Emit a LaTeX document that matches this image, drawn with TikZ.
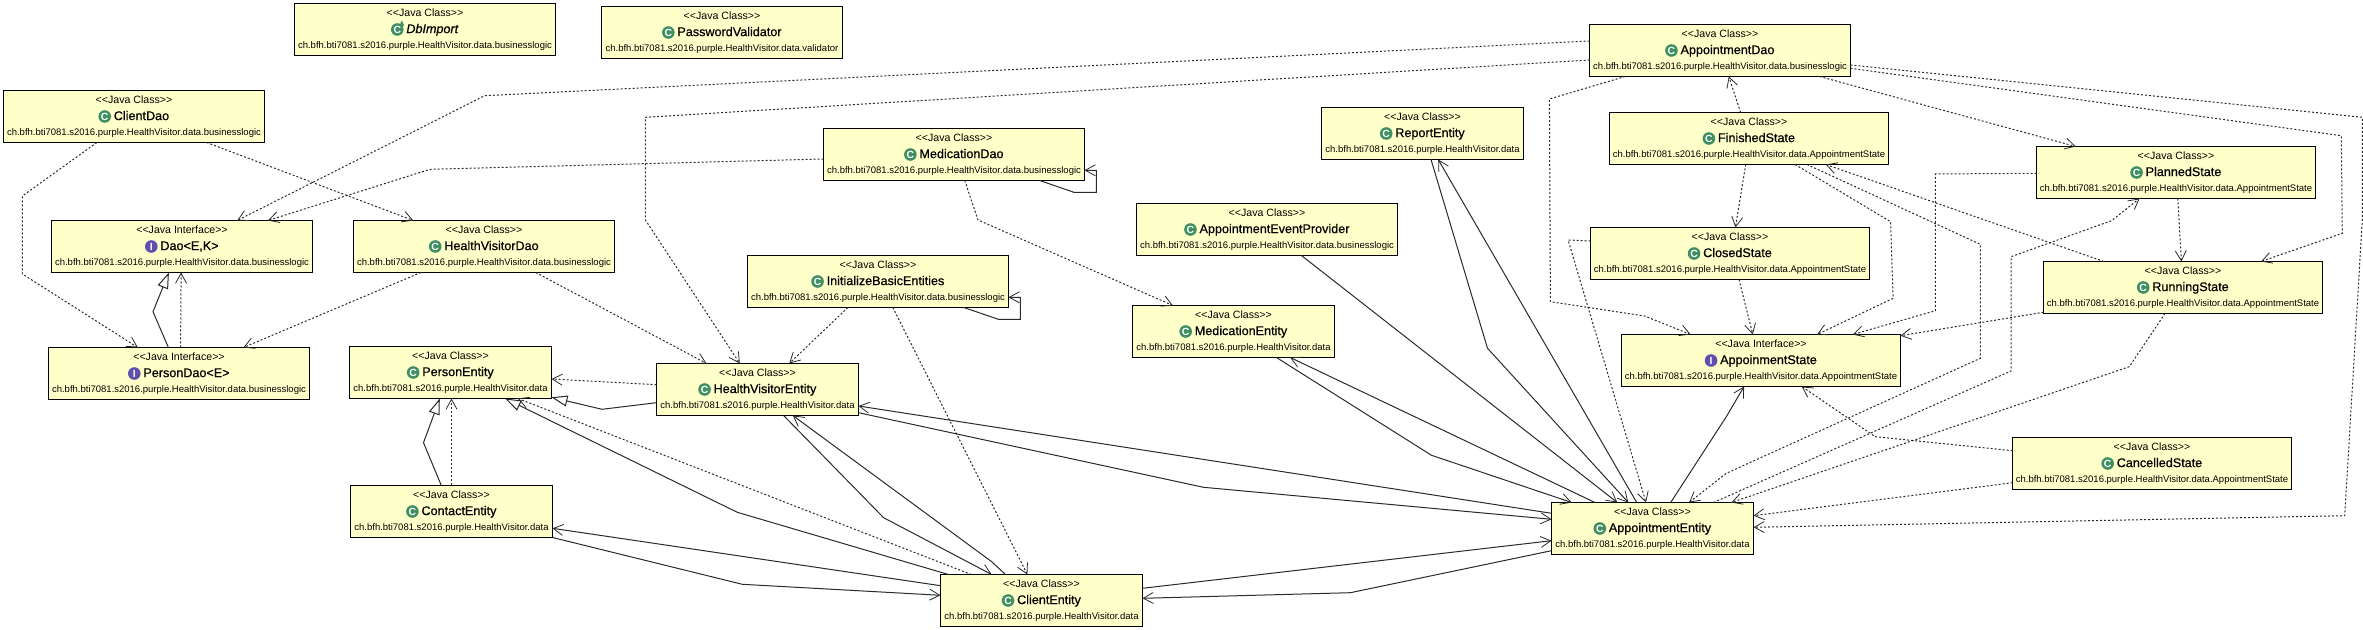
\documentclass[tikz,border=0pt]{standalone}
\usepackage{fontspec}
\setmainfont{Liberation Sans}
\newfontfamily\namefont[FakeBold=0.7]{Liberation Sans}
\usetikzlibrary{arrows.meta,calc}
\definecolor{boxfill}{HTML}{FFFFC9}
\definecolor{iconC}{HTML}{3F8F63}
\definecolor{iconI}{HTML}{5F50B0}
\definecolor{linec}{HTML}{2A2A2A}
\tikzset{
  umlbox/.style={draw=black,fill=boxfill,line width=.65pt,inner sep=0pt,outer sep=0pt,minimum height=26pt,anchor=north west},
  stereo/.style={inner sep=0pt,anchor=base,font=\fontsize{5.3}{6}\selectfont},
  cname/.style={inner sep=0pt,anchor=base,font=\fontsize{6.3}{6}\selectfont\namefont},
  pkg/.style={inner sep=0pt,anchor=base,font=\fontsize{4.75}{6}\selectfont},
  iconc/.style={circle,fill=iconC,inner sep=0pt,minimum size=6.3pt,text=white,font=\fontsize{5.2}{5}\selectfont\bfseries},
  iconi/.style={circle,fill=iconI,inner sep=0pt,minimum size=6.3pt,text=white,font=\fontsize{5.2}{5}\selectfont\bfseries},
  dep/.style={draw=linec,line width=.5pt,dash pattern=on 1pt off 1pt,-{Straight Barb[length=5pt,width=5.5pt,line width=.4pt]}},
  assoc/.style={draw=linec,line width=.5pt,-{Straight Barb[length=5pt,width=5.5pt,line width=.4pt]}},
  inherit/.style={draw=linec,line width=.5pt,-{Triangle[open,fill=white,length=8pt,width=5.5pt,line width=.5pt]}},
  loopline/.style={draw=linec,line width=.5pt,-{Straight Barb[length=5pt,width=5.5pt,line width=.4pt]}},
}
% id, x, y, width, stereotype, name, package, icon style, icon letter
\newcommand{\umlclass}[9]{%
  \node[umlbox,minimum width=#4*.5pt] (#1) at (#2,#3) {};
  \node[stereo] (#1-s) at ($(#1.north)+(0,13)$) {#5};
  \node[cname] (#1-n) at ($(#1.north)+(7.5,29.6)$) {#6};
  \node[pkg] (#1-p) at ($(#1.north)+(0,45.3)$) {#7};
  \node[#8] (#1-i) at ($(#1-n.west |- #1.north)+(-8.7,26)$) {#9};
}
\begin{document}
\begin{tikzpicture}[x=.5pt,y=-.5pt]
\useasboundingbox (0,0) rectangle (2363,630);
\def\bl{ch.bfh.bti7081.s2016.purple.HealthVisitor.data.businesslogic}
\def\dt{ch.bfh.bti7081.s2016.purple.HealthVisitor.data}
\def\st{ch.bfh.bti7081.s2016.purple.HealthVisitor.data.AppointmentState}
\def\jc{<{}<Java Class>{}>}
\def\ji{<{}<Java Interface>{}>}
\umlclass{db}{294.5}{3.5}{261}{\jc}{\textit{DbImport}}{\bl}{iconc}{C}
\fill[iconC] ($(db-i)+(4.5,-9)$) -- ($(db-i)+(7,-3.5)$) -- ($(db-i)+(2,-3.5)$) -- cycle;
\umlclass{pv}{601.5}{6.5}{241}{\jc}{PasswordValidator}{ch.bfh.bti7081.s2016.purple.HealthVisitor.data.validator}{iconc}{C}
\umlclass{cd}{3.5}{90.5}{261}{\jc}{ClientDao}{\bl}{iconc}{C}
\umlclass{dao}{51.5}{220.5}{261}{\ji}{Dao<E,K>}{\bl}{iconi}{I}
\umlclass{hvd}{353.5}{220.5}{261}{\jc}{HealthVisitorDao}{\bl}{iconc}{C}
\umlclass{pd}{48.5}{347.5}{261}{\ji}{PersonDao<E>}{\bl}{iconi}{I}
\umlclass{pe}{349.5}{346.5}{202}{\jc}{PersonEntity}{\dt}{iconc}{C}
\umlclass{ce}{350.5}{485.5}{202}{\jc}{ContactEntity}{\dt}{iconc}{C}
\umlclass{hve}{656.5}{363.5}{202}{\jc}{HealthVisitorEntity}{\dt}{iconc}{C}
\umlclass{md}{823.5}{128.5}{261}{\jc}{MedicationDao}{\bl}{iconc}{C}
\umlclass{re}{1321.5}{107.5}{202}{\jc}{ReportEntity}{\dt}{iconc}{C}
\umlclass{aep}{1136.5}{203.5}{261}{\jc}{AppointmentEventProvider}{\bl}{iconc}{C}
\umlclass{ibe}{747.5}{255.5}{261}{\jc}{InitializeBasicEntities}{\bl}{iconc}{C}
\umlclass{me}{1132.5}{305.5}{202}{\jc}{MedicationEntity}{\dt}{iconc}{C}
\umlclass{cl}{940.5}{574.5}{202}{\jc}{ClientEntity}{\dt}{iconc}{C}
\umlclass{ae}{1551.5}{502.5}{202}{\jc}{AppointmentEntity}{\dt}{iconc}{C}
\umlclass{ad}{1589.5}{24.5}{261}{\jc}{AppointmentDao}{\bl}{iconc}{C}
\umlclass{fs}{1609.5}{112.5}{279}{\jc}{FinishedState}{\st}{iconc}{C}
\umlclass{ps}{2036.5}{146.5}{279}{\jc}{PlannedState}{\st}{iconc}{C}
\umlclass{cs}{1590.5}{227.5}{279}{\jc}{ClosedState}{\st}{iconc}{C}
\umlclass{rs}{2043.5}{261.5}{279}{\jc}{RunningState}{\st}{iconc}{C}
\umlclass{as}{1621.5}{334.5}{279}{\ji}{AppoinmentState}{\st}{iconi}{I}
\umlclass{cas}{2012.5}{437.5}{279}{\jc}{CancelledState}{\st}{iconc}{C}
% dependencies
\draw[dep] ([shift={(0,16.5)}]ad.north west) -- (484.7,95.7) -- ([shift={(185.7,0)}]dao.north west);
\draw[dep] ([shift={(0,35.5)}]ad.north west) -- (645.4,117.3) -- (645.4,220) -- ([shift={(83.3,0)}]hve.north west);
\draw[dep] ([shift={(0,30.5)}]md.north west) -- (430,169.3) -- ([shift={(216.5,0)}]dao.north west);
\draw[dep] ([shift={(93.4,0)}]cd.south west) -- (22.4,196) -- (22.4,274) -- ([shift={(89.3,0)}]pd.north west);
\draw[dep] ([shift={(203.1,0)}]cd.south west) -- ([shift={(59.8,0)}]hvd.north west);
\draw[inherit] ([shift={(119.9,0)}]pd.north west) -- (153,311.7) -- ([shift={(117.4,0)}]dao.south west);
\draw[dep] ([shift={(132.1,0)}]pd.north west) -- ([shift={(129.6,0)}]dao.south west);
\draw[dep] ([shift={(67.4,0)}]hvd.south west) -- ([shift={(194.9,0)}]pd.north west);
\draw[dep] ([shift={(182.2,0)}]hvd.south west) -- ([shift={(50.1,0)}]hve.north west);
\draw[dep] ([shift={(100.4,0)}]ibe.south west) -- ([shift={(132.7,0)}]hve.north west);
\draw[dep] ([shift={(145.3,0)}]ibe.south west) -- ([shift={(86.9,0)}]cl.north west);
\draw[loopline] ([shift={(216.2,0)}]ibe.south west) -- (998.4,319.3) -- (1020.3,319.3) -- (1020.3,297.3) -- ([shift={(0,41.8)}]ibe.north east);
\draw[loopline] ([shift={(216.2,0)}]md.south west) -- (1073.9,192.3) -- (1096.3,192.3) -- (1096.3,170.3) -- ([shift={(0,41.8)}]md.north east);
\draw[dep] ([shift={(141.2,0)}]md.south west) -- (978,220) -- ([shift={(40.4,0)}]me.north west);
% associations around AppointmentEntity
\draw[assoc] ([shift={(164.9,0)}]aep.south west) -- ([shift={(65.8,0)}]ae.north west);
\draw[assoc] ([shift={(143.9,0)}]me.south west) -- (1431.5,455.3) -- ([shift={(20.2,0)}]ae.north west);
\draw[assoc] ([shift={(43.5,0)}]ae.north west) -- ([shift={(157.7,0)}]me.south west);
\draw[assoc] ([shift={(109.5,0)}]re.south west) -- (1487.5,348.3) -- ([shift={(76.8,0)}]ae.north west);
\draw[assoc] ([shift={(85.2,0)}]ae.north west) -- ([shift={(116.7,0)}]re.south west);
\draw[assoc] ([shift={(119.2,0)}]ae.north west) -- (1726.3,416.7) -- ([shift={(122.6,0)}]as.south west);
\draw[assoc] ([shift={(0,10.8)}]ae.north west) -- ([shift={(0,42.5)}]hve.north east);
\draw[assoc] ([shift={(0,49.2)}]hve.north east) -- (1203.5,487.3) -- ([shift={(0,16.8)}]ae.north west);
\draw[assoc] ([shift={(127.1,0)}]hve.south west) -- (883.6,517.7) -- ([shift={(51.2,0)}]cl.north west);
\draw[assoc] ([shift={(65,0)}]cl.north west) -- (991.7,561.7) -- ([shift={(136.3,0)}]hve.south west);
\draw[assoc] ([shift={(0,13.8)}]cl.north east) -- ([shift={(0,38.2)}]ae.north west);
\draw[assoc] ([shift={(0,48.2)}]ae.north west) -- (1350.4,592.7) -- ([shift={(0,23.8)}]cl.north east);
\draw[assoc] ([shift={(0,11.2)}]cl.north west) -- ([shift={(0,42.8)}]ce.north east);
\draw[assoc] ([shift={(0,52)}]ce.north east) -- (742.3,584.3) -- ([shift={(0,20.8)}]cl.north west);
% person entity
\draw[inherit] ([shift={(7.9,0)}]cl.north west) -- (737.3,512.3) -- ([shift={(155.6,0)}]pe.south west);
\draw[dep] ([shift={(30.8,0)}]cl.north west) -- ([shift={(168.4,0)}]pe.south west);
\draw[dep] ([shift={(0,21.2)}]hve.north west) -- ([shift={(0,32.5)}]pe.north east);
\draw[inherit] ([shift={(0,39.2)}]hve.north west) -- (602,409.3) -- ([shift={(0,50.8)}]pe.north east);
\draw[inherit] ([shift={(90.8,0)}]ce.north west) -- (423.5,442.7) -- ([shift={(90.3,0)}]pe.south west);
\draw[dep] ([shift={(101,0)}]ce.north west) -- ([shift={(102,0)}]pe.south west);
% state machine
\draw[dep] ([shift={(131.1,0)}]fs.north west) -- ([shift={(139.3,0)}]ad.south west);
\draw[dep] ([shift={(35.7,0)}]ad.south west) -- (1549.4,99) -- (1550.4,301.7) -- (1644.6,316) -- ([shift={(69.1,0)}]as.north west);
\draw[dep] ([shift={(230.1,0)}]ad.south west) -- ([shift={(39.3,0)}]ps.north west);
\draw[dep] ([shift={(0,43.8)}]ad.north east) -- (2341.3,135.7) -- (2342.3,233.3) -- ([shift={(217.5,0)}]rs.north west);
\draw[dep] ([shift={(0,40.5)}]ad.north east) -- (2362.3,117.3) -- (2362.3,220) -- (2344.7,515.7) -- ([shift={(0,24.8)}]ae.north east);
\draw[dep] ([shift={(136.2,0)}]fs.south west) -- ([shift={(144.9,0)}]cs.north west);
\draw[dep] ([shift={(185.6,0)}]fs.south west) -- (1890.6,221.7) -- (1893.1,298.3) -- ([shift={(195.6,0)}]as.north west);
\draw[dep] ([shift={(197.4,0)}]fs.south west) -- (1980.3,244.3) -- (1980.3,358.3) -- (1726.3,473.3) -- ([shift={(137.5,0)}]ae.north west);
\draw[dep] ([shift={(60.3,0)}]rs.north west) -- ([shift={(216.3,0)}]fs.south west);
\draw[dep] ([shift={(141.3,0)}]ps.south west) -- ([shift={(137.9,0)}]rs.north west);
\draw[dep] ([shift={(0,26.8)}]ps.north west) -- (1935.4,174) -- (1935.4,310.7) -- ([shift={(231.3,0)}]as.north west);
\draw[dep] ([shift={(0,50.8)}]rs.north west) -- ([shift={(0,1.2)}]as.north east);
\draw[dep] ([shift={(162,0)}]ae.north west) -- (2011,371) -- (2011,256.7) -- (2111.5,220.7) -- ([shift={(103,0)}]ps.south west);
\draw[dep] ([shift={(121.5,0)}]rs.south west) -- (2129.3,366.7) -- ([shift={(179.9,0)}]ae.north west);
\draw[dep] ([shift={(0,13.2)}]cas.north west) -- (1875.2,436.7) -- ([shift={(180.3,0)}]as.south west);
\draw[dep] ([shift={(0,45.2)}]cas.north west) -- ([shift={(0,13.2)}]ae.north east);
\draw[dep] ([shift={(148.5,0)}]cs.south west) -- ([shift={(131.3,0)}]as.north west);
\draw[dep] ([shift={(0,13.5)}]cs.north west) -- (1568.1,240) -- ([shift={(94.5,0)}]ae.north west);
\end{tikzpicture}
\end{document}
